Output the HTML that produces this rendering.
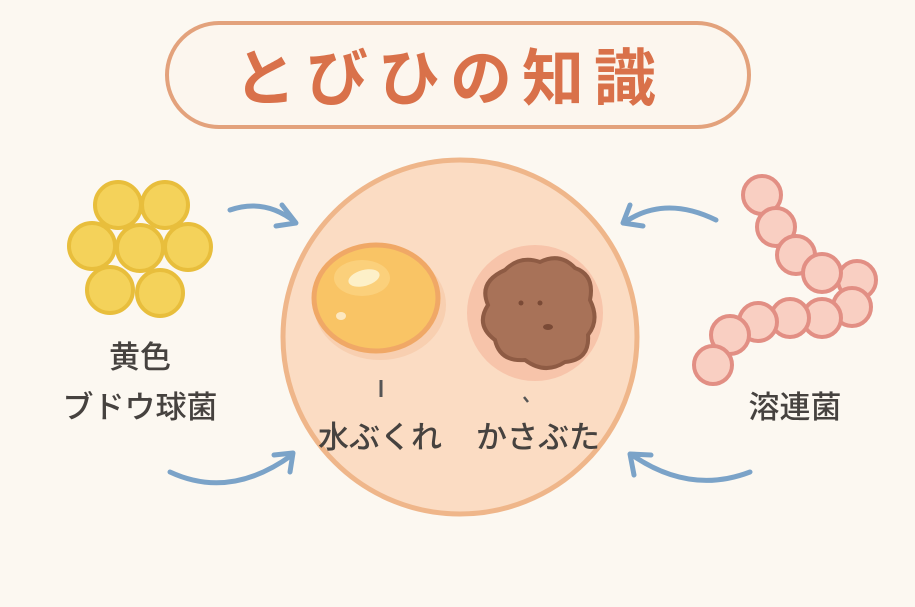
<!DOCTYPE html><html><head><meta charset="utf-8"><style>
body{margin:0;background:#fcf8f1;}
svg{display:block}
text{font-family:"Liberation Sans","Noto Sans CJK JP",sans-serif;}
</style></head><body>
<svg width="915" height="607" viewBox="0 0 915 607">
<rect width="915" height="607" fill="#fcf8f1"/>
<rect x="167" y="23" width="582" height="104" rx="52" fill="#fcf6ee" stroke="#e3a27c" stroke-width="4"/>
<text x="450" y="100" font-size="62" font-weight="bold" fill="#d9714a" text-anchor="middle" letter-spacing="10">とびひの知識</text>
<!-- big circle -->
<circle cx="460" cy="337" r="177" fill="#fbdcc3" stroke="#efb68a" stroke-width="5"/>
<!-- blister -->
<ellipse cx="380" cy="305" rx="66" ry="55" fill="#f7c9a8" opacity="0.7"/>
<ellipse cx="376" cy="298" rx="62" ry="53" fill="#f9c465" stroke="#f0a866" stroke-width="5"/>
<ellipse cx="362" cy="278" rx="28" ry="18" fill="#fbd88a" opacity="0.6"/>
<ellipse cx="364" cy="278" rx="16" ry="8" fill="#fdf0c8" transform="rotate(-15 364 278)"/>
<ellipse cx="341" cy="316" rx="5" ry="4" fill="#fde8c0"/>
<!-- scab -->
<circle cx="535" cy="313" r="68" fill="#f5b9a0" opacity="0.7"/>
<path d="M505 270 Q520 255 540 262 Q560 252 575 268 Q595 275 590 300 Q600 320 588 335 Q590 360 565 362 Q545 375 525 360 Q500 362 495 340 Q475 325 488 305 Q478 282 505 270Z" fill="#a87258" stroke="#8e5b44" stroke-width="4"/>
<circle cx="521" cy="303" r="2.5" fill="#7a4a36"/><circle cx="540" cy="303" r="2.5" fill="#7a4a36"/>
<ellipse cx="548" cy="327" rx="5" ry="3" fill="#7a4a36"/>
<line x1="381" y1="380" x2="381" y2="397" stroke="#555" stroke-width="3"/>
<path d="M524 397 L528 402" stroke="#555" stroke-width="2.5"/>
<text x="380" y="448" font-size="31" font-weight="500" fill="#46423f" text-anchor="middle">水ぶくれ</text>
<text x="538" y="448" font-size="31" font-weight="500" fill="#46423f" text-anchor="middle">かさぶた</text>
<!-- staph -->
<g fill="#f4d25a" stroke="#e8be3c" stroke-width="4">
<circle cx="118" cy="205" r="23"/><circle cx="165" cy="205" r="23"/>
<circle cx="92" cy="246" r="23"/><circle cx="188" cy="247" r="23"/><circle cx="140" cy="248" r="23"/>
<circle cx="110" cy="290" r="23"/><circle cx="160" cy="293" r="23"/>
</g>
<text x="140" y="368" font-size="31" font-weight="500" fill="#46423f" text-anchor="middle">黄色</text>
<text x="140" y="418" font-size="31" font-weight="500" fill="#46423f" text-anchor="middle">ブドウ球菌</text>
<!-- strep -->
<g fill="#f9cfc2" stroke="#e28f84" stroke-width="4">
<circle cx="762" cy="195" r="19"/><circle cx="776" cy="227" r="19"/><circle cx="796" cy="255" r="19"/>
<circle cx="857" cy="280" r="19"/><circle cx="822" cy="273" r="19"/>
<circle cx="852" cy="307" r="19"/><circle cx="822" cy="318" r="19"/><circle cx="790" cy="318" r="19"/>
<circle cx="758" cy="322" r="19"/><circle cx="730" cy="335" r="19"/><circle cx="713" cy="365" r="19"/>
</g>
<text x="795" y="418" font-size="31" font-weight="500" fill="#46423f" text-anchor="middle">溶連菌</text>
<!-- arrows -->
<g fill="none" stroke="#7ba3c8" stroke-width="5" stroke-linecap="round" stroke-linejoin="round">
<path d="M230 210 Q265 198 295 222"/><path d="M282 205 L296 223 L276 226"/>
<path d="M170 472 Q230 500 292 455"/><path d="M274 455 L293 453 L290 472"/>
<path d="M716 220 Q665 195 625 222"/><path d="M630 205 L623 223 L643 226"/>
<path d="M750 472 Q690 495 632 455"/><path d="M634 475 L630 454 L651 455"/>
</g>
</svg>
</body></html>
